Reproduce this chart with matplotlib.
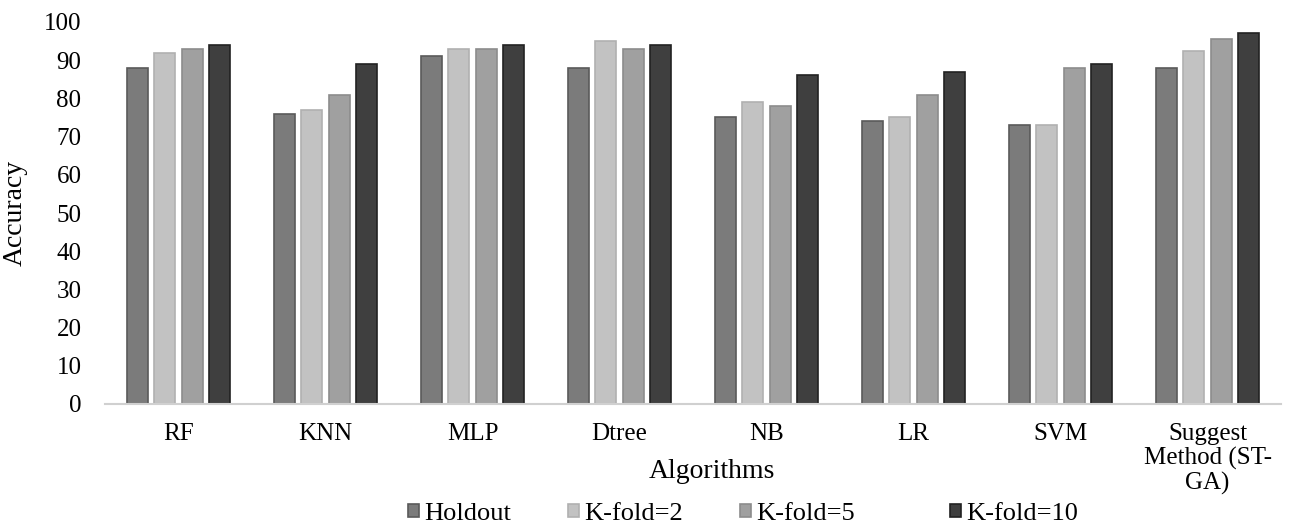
import matplotlib
matplotlib.use("Agg")
import matplotlib.pyplot as plt
import numpy as np

categories = ["RF", "KNN", "MLP", "Dtree", "NB", "LR", "SVM", "Suggest\nMethod (ST-\nGA)"]
series_names = ["Holdout", "K-fold=2", "K-fold=5", "K-fold=10"]
holdout = [88, 76, 91, 88, 75, 74, 73, 88]
kfold2 = [92, 77, 93, 95, 79, 75, 73, 92.3]
kfold5 = [93, 81, 93, 93, 78, 81, 88, 95.6]
kfold10 = [94, 89, 94, 94, 86, 87, 89, 97.2]
yticks = list(range(0, 101, 10))

colors = ["#7b7b7b", "#c2c2c2", "#a0a0a0", "#3f3f3f"]
edges = ["#5a5a5a", "#b0b0b0", "#8c8c8c", "#222222"]

plt.rcParams['font.family'] = ['Liberation Serif', 'DejaVu Serif']

W, H = 1294, 524
fig = plt.figure(figsize=(W / 100, H / 100), dpi=100)
ax_left, ax_right, ax_top, ax_bottom = 105, 1281, 22, 404
ax = fig.add_axes([ax_left / W, (H - ax_bottom) / H, (ax_right - ax_left) / W, (ax_bottom - ax_top) / H])

x = np.arange(len(categories))
spacing = 0.184
width = 0.143
data = [holdout, kfold2, kfold5, kfold10]
handles = []
for i, (vals, c, e, name) in enumerate(zip(data, colors, edges, series_names)):
    b = ax.bar(x + (i - 1.5) * spacing, vals, width, color=c, edgecolor=e, linewidth=1.2, label=name)
    handles.append(b)

ax.set_xlim(-0.5, len(categories) - 0.5)
ax.set_ylim(0, 100)
ax.set_yticks(yticks)
ax.set_xticks(x)
ax.set_xticklabels(categories, fontsize=18, linespacing=1.12)
ax.tick_params(axis='y', labelsize=18, length=0, pad=17)
ax.tick_params(axis='x', length=0, pad=13.5)
for s in ["top", "right", "left"]:
    ax.spines[s].set_visible(False)
ax.spines["bottom"].set_color("#d0d0d0")
ax.spines["bottom"].set_linewidth(1.5)
ax.set_ylabel("Accuracy", fontsize=20)
ax.yaxis.set_label_coords((28 - ax_left) / (ax_right - ax_left), 0.5)
ax.set_xlabel("Algorithms", fontsize=20)
ax.xaxis.set_label_coords(712 / W, 1 - 472 / H, transform=fig.transFigure)
ax.xaxis.label.set_va("center")

leg_x = [408, 568, 740, 950]
for h, name, lx in zip(handles, series_names, leg_x):
    fig.legend([h], [name], loc="center left", bbox_to_anchor=(lx / W, 1 - 514 / H),
               frameon=False, fontsize=19, handlelength=0.42, handleheight=0.42,
               handletextpad=0.2, borderpad=0, borderaxespad=0)

fig.savefig("out.png", dpi=100)
